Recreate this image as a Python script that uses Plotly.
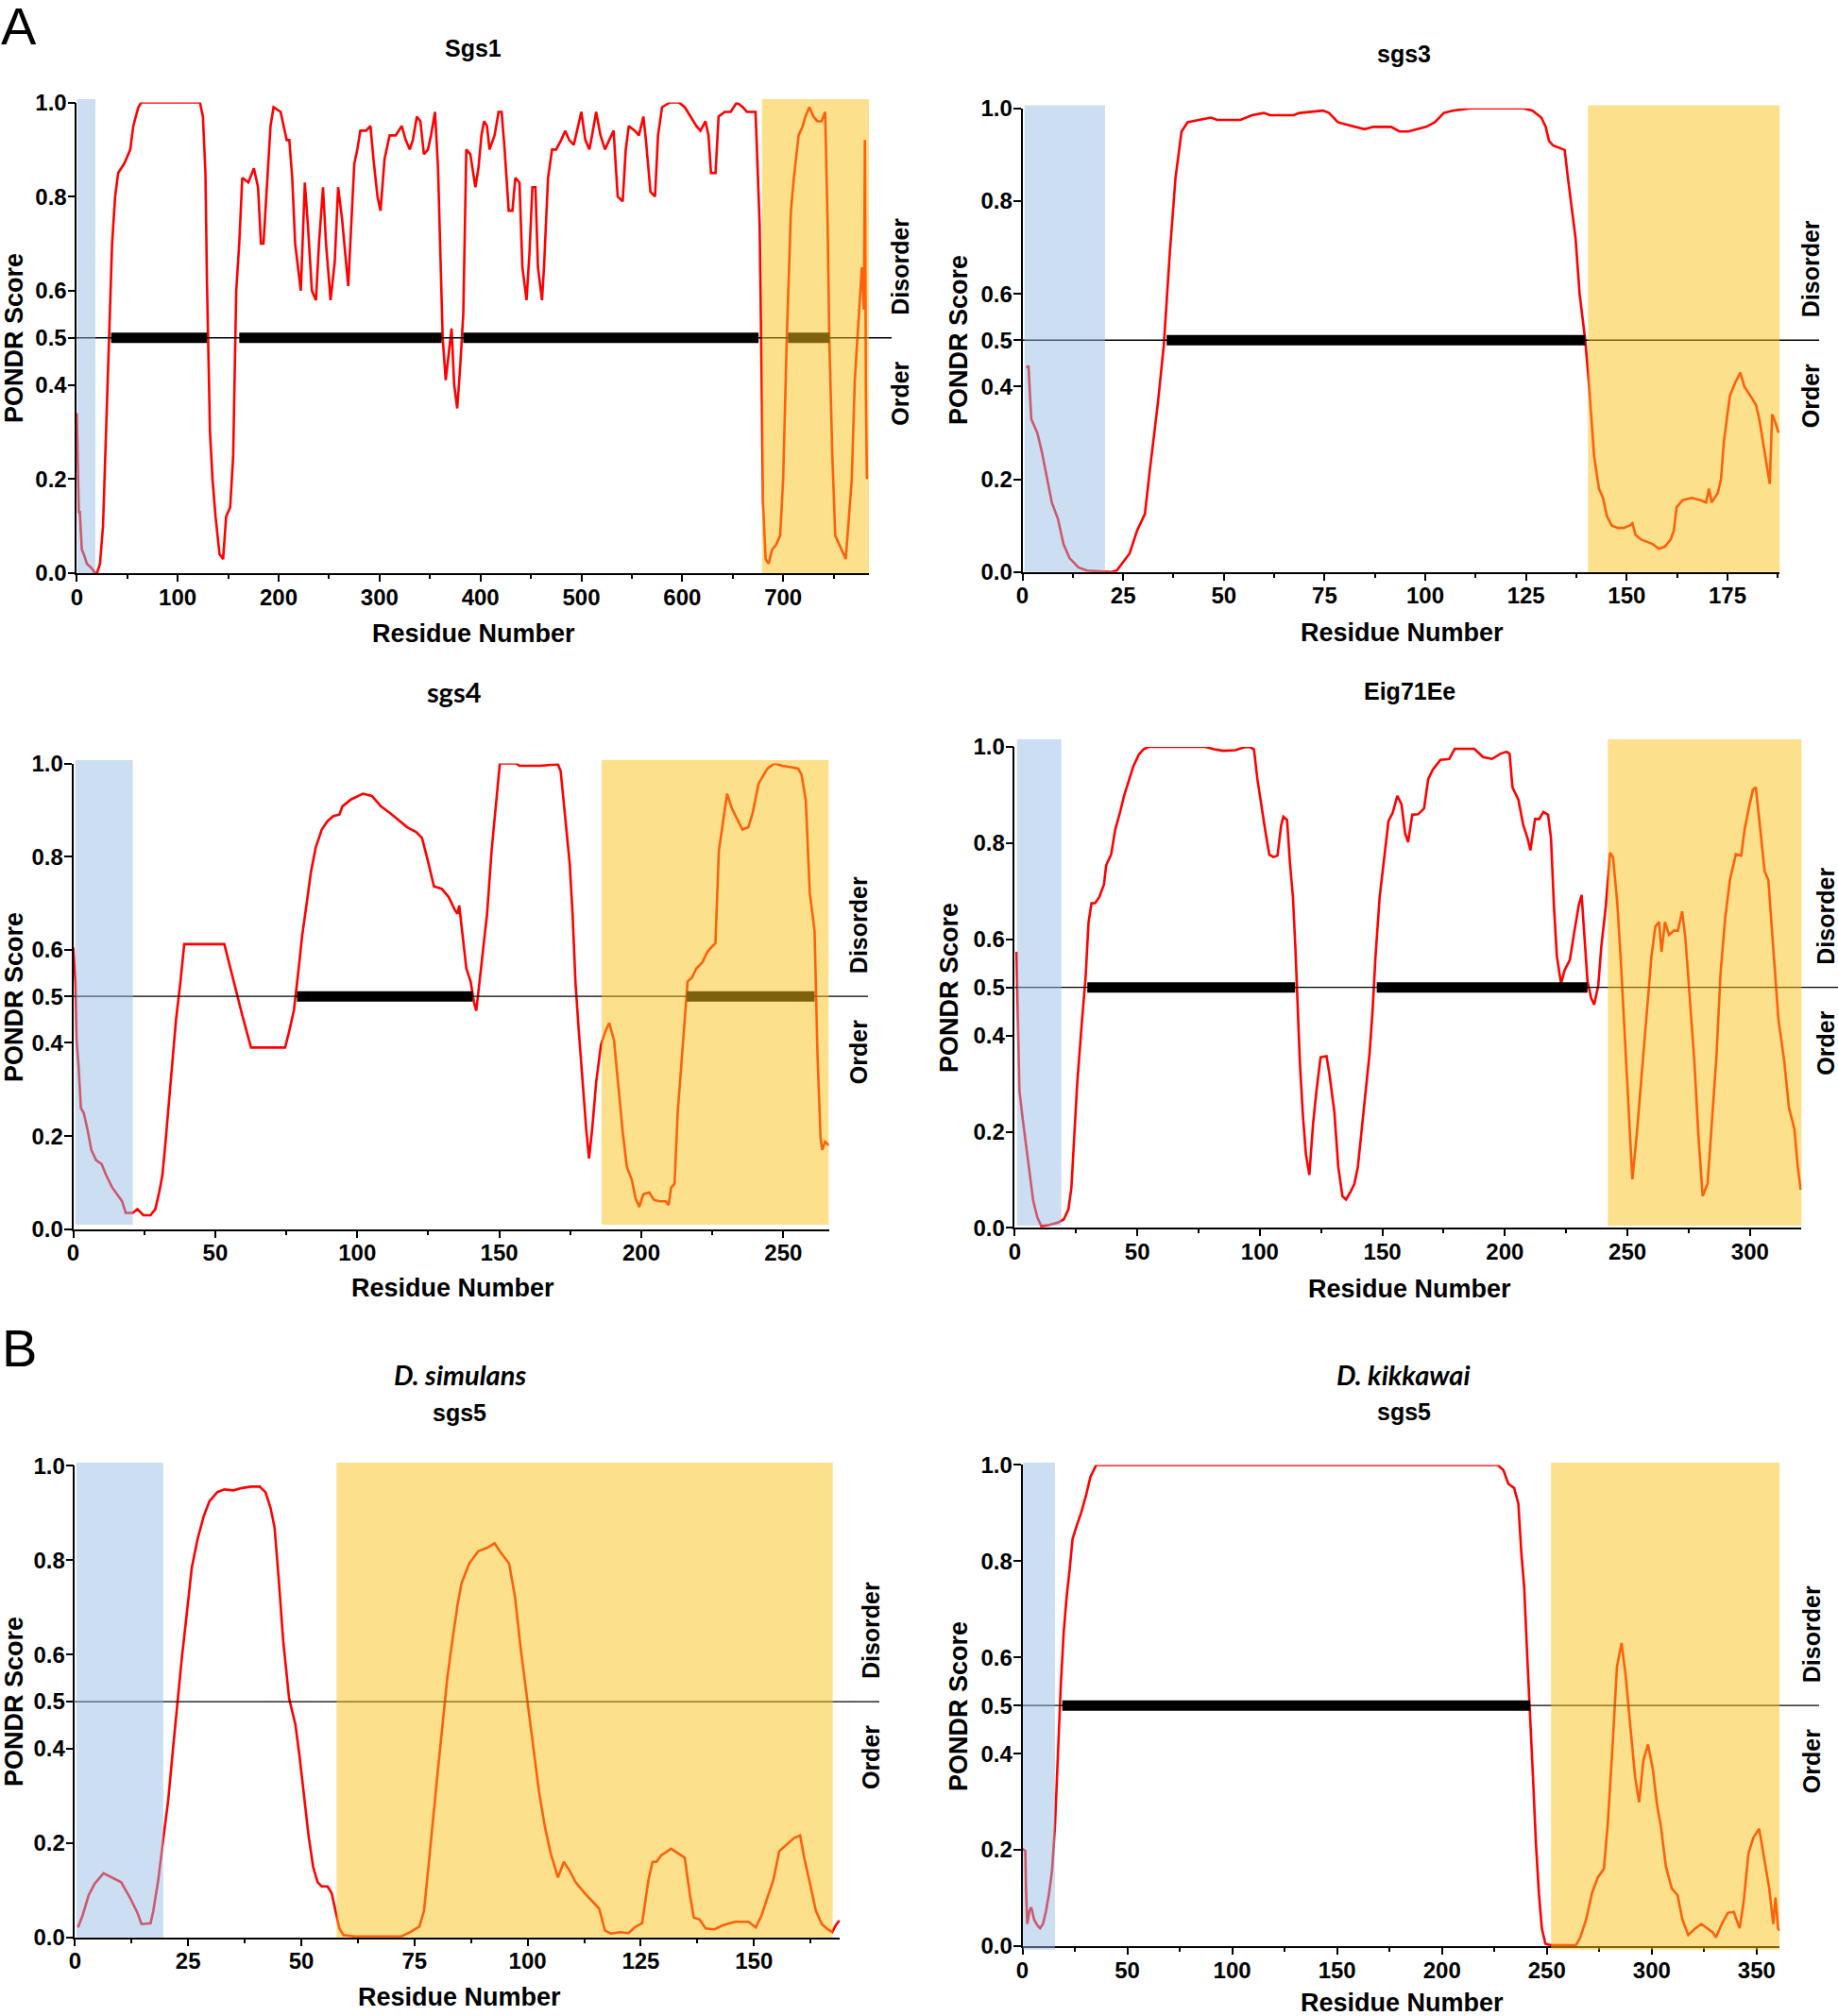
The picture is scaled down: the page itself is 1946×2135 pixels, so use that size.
import plotly.graph_objects as go

W, H = 1946, 2135          # page size

# ---------------- data ----------------
sgs1_residue = [0,1,2,3,4,5,7,10,15,18,20,23,26,29,32,35,38,41,47,53,56,61,64,122,125,127.5,129,132,134.5,137.5,141.5,145,148,152,155,158,161,164,170,175.5,179.6,182.5,185,188,192,195,202,208,210.6,213.5,216.4,222,226,229,233,237,240,244,247,251.5,255.6,259,263,269,275,278,281,286.6,291,294,298,301,305,310,316,322,326,330,333,337,340.5,344,348,351,355,358,360,362.6,365.6,368.5,371.4,374,377,380,383,386,390,395,398,401,403.6,406.5,409,414,418,421,424,428,431.7,434.6,438.7,441.6,445.7,448.6,451.5,454.5,457,461,463,467,471,475,480,484,488,492.5,496,500,504,508,510.6,514.7,519,523.5,527.6,532,536,541,544,547,553,557,561.5,564,568.5,573,576,580,588,596.6,602.5,608,614,618,623,626,628.5,633,636,642,648,654,660,664,668,672.6,674,676.7,678.5,680,682.6,685.6,689,693,697,700,703.6,707.7,710.6,715.3,719.4,722,726,730,734,738,741.6,744,745.7,748.7,751.6,755.7,760,762,764.5,768,771,775,778,780,781,782,783]
sgs1_score = [0.34,0.25,0.13,0.13,0.07,0.05,0.04,0.02,0.01,0.0,0.0,0.02,0.1,0.3,0.52,0.7,0.8,0.85,0.87,0.9,0.95,0.99,1.0,1.0,0.97,0.85,0.62,0.3,0.2,0.12,0.04,0.03,0.12,0.14,0.25,0.6,0.7,0.84,0.83,0.86,0.82,0.7,0.7,0.8,0.95,0.99,0.98,0.92,0.92,0.84,0.7,0.6,0.83,0.74,0.6,0.58,0.7,0.82,0.7,0.58,0.66,0.82,0.75,0.61,0.87,0.9,0.94,0.94,0.95,0.88,0.8,0.77,0.88,0.93,0.93,0.95,0.92,0.9,0.92,0.97,0.96,0.89,0.9,0.93,0.98,0.86,0.68,0.5,0.41,0.46,0.52,0.4,0.35,0.44,0.55,0.9,0.89,0.82,0.86,0.93,0.96,0.95,0.9,0.93,0.98,0.98,0.9,0.77,0.77,0.84,0.83,0.65,0.58,0.68,0.82,0.82,0.65,0.58,0.65,0.84,0.9,0.9,0.92,0.94,0.92,0.91,0.94,0.98,0.92,0.9,0.93,0.98,0.93,0.9,0.92,0.94,0.8,0.79,0.9,0.95,0.94,0.93,0.97,0.92,0.81,0.8,0.93,0.99,1.0,1.0,0.99,0.97,0.95,0.94,0.96,0.93,0.85,0.85,0.97,0.98,0.98,1.0,0.99,0.98,0.98,0.98,0.9,0.74,0.45,0.15,0.03,0.02,0.05,0.06,0.08,0.2,0.5,0.77,0.84,0.93,0.95,0.97,0.99,0.97,0.96,0.96,0.98,0.75,0.5,0.25,0.08,0.06,0.04,0.03,0.1,0.2,0.41,0.55,0.65,0.56,0.92,0.38,0.2]
sgs1_disorder_segments = [(34, 129), (161, 361.6), (383, 675.6), (704.8, 746)]

sgs3_residue = [1,1.5,2.2,3.7,4.8,5.9,7.3,8.8,10.2,11.7,13.9,16,22,23.4,24.9,26.6,28.5,30.4,31.5,32.5,33.7,35.1,36.6,38,39.5,41,43.9,46.8,48.3,54.1,57,59.9,61.5,67.3,68.8,74.6,76.1,78.3,80.5,82.7,84.9,87.1,89.3,91.5,93.6,95.8,98,100.2,102.4,104.6,106.8,111.2,120,124.4,126.6,128.8,129.9,130.7,131.7,133.2,134.6,135.4,136.1,137.3,138.3,139.7,140.5,141.2,141.9,143.1,144.1,145.1,146.3,147.8,149.2,150.7,151.4,152.2,153.6,155.1,156.5,158,159.5,160.9,161.7,162.4,163.9,166.1,168.3,169.7,170.4,171.1,172.6,173.4,174.1,175.6,177,178.2,179.2,180.7,182.1,182.9,184.3,185.5,186.1,187,187.7]
sgs3_score = [0.44,0.445,0.33,0.30,0.26,0.21,0.15,0.115,0.06,0.03,0.01,0.003,0.0,0.003,0.02,0.04,0.09,0.125,0.21,0.28,0.37,0.49,0.69,0.85,0.95,0.97,0.975,0.98,0.975,0.975,0.985,0.99,0.985,0.985,0.99,0.995,0.99,0.97,0.965,0.96,0.955,0.96,0.96,0.96,0.95,0.95,0.955,0.96,0.97,0.99,0.995,1.0,1.0,1.0,0.995,0.98,0.96,0.93,0.92,0.915,0.91,0.85,0.8,0.72,0.6,0.5,0.42,0.33,0.25,0.18,0.16,0.12,0.1,0.095,0.095,0.1,0.105,0.08,0.07,0.065,0.06,0.05,0.055,0.07,0.09,0.14,0.155,0.16,0.155,0.15,0.18,0.15,0.17,0.2,0.28,0.38,0.41,0.43,0.4,0.38,0.36,0.33,0.25,0.19,0.34,0.32,0.3]
sgs3_disorder_segments = [(35.8, 139.7)]

sgs4_residue = [0,0.8,1.2,1.9,2.7,3.7,5,6.4,8.1,10,11.6,13.7,15.8,17.2,18.5,21,22.6,24.7,27.2,28.9,30.3,31.4,32.4,34.5,36.2,37.6,39.1,53.2,55.3,57.4,59.5,62.6,74.6,76,77.7,79.2,80.6,82.3,83.7,85.4,87.5,89.5,91.6,93.7,94.8,97.9,100,102,105.2,108.3,111.4,114.5,117.6,120.7,122.8,124.9,127,129.7,132.2,134.3,135.3,135.9,137,138.4,139.9,141.1,141.9,143,144.2,145.7,147.3,148.8,150.2,156,157.1,164.4,170.6,171.6,172.7,174.8,175.8,176.8,177.9,179.3,180.6,181.6,182.7,184.1,185.8,187.3,188.7,190.4,192,193.5,194.9,196.6,198,199.3,200.7,202.8,204.4,206.5,208.6,209.6,210.5,211.7,212.8,214.2,215.3,216.3,217.8,219.4,221.5,223.2,224.6,226.1,227.3,228.8,230.2,231.9,234,235.6,237.7,239.2,241.3,244.4,246.9,249.6,252.7,255.2,256.4,257.9,259.3,261,262,263.1,263.7,264.7,266]
sgs4_score = [0.605,0.53,0.405,0.35,0.26,0.25,0.215,0.17,0.148,0.14,0.116,0.09,0.072,0.06,0.035,0.035,0.043,0.03,0.03,0.043,0.08,0.116,0.18,0.324,0.45,0.523,0.612,0.612,0.56,0.514,0.46,0.39,0.39,0.424,0.47,0.55,0.63,0.704,0.767,0.82,0.858,0.876,0.887,0.89,0.908,0.923,0.93,0.935,0.93,0.908,0.894,0.878,0.863,0.853,0.84,0.79,0.736,0.731,0.713,0.686,0.677,0.695,0.64,0.56,0.532,0.487,0.469,0.532,0.605,0.677,0.813,0.912,1.0,1.0,0.995,0.995,0.998,0.984,0.92,0.785,0.677,0.532,0.433,0.315,0.215,0.152,0.215,0.315,0.396,0.424,0.443,0.405,0.297,0.206,0.134,0.107,0.066,0.048,0.075,0.079,0.063,0.06,0.06,0.052,0.089,0.098,0.25,0.36,0.45,0.532,0.54,0.56,0.573,0.595,0.605,0.614,0.813,0.876,0.935,0.903,0.876,0.858,0.863,0.894,0.957,0.989,1.0,0.995,0.992,0.989,0.976,0.921,0.722,0.64,0.378,0.197,0.17,0.188,0.18]
sgs4_disorder_segments = [(78.8, 140.6), (216, 261)]

eig_residue = [0.7,1.2,1.9,3.1,4.6,6,7.5,9.2,10.8,14,17.6,20,21.9,23.1,24.3,25.5,27.2,28.9,30.1,31.3,32.8,34.5,36.4,37.3,39.3,41,42.9,44.6,46.5,48.4,50.6,52.5,54.5,77.8,81.4,85.1,89.9,93.5,95.9,97.6,99,100.7,102.4,103.9,105.5,107.2,108.7,109.6,111.1,112.3,113.5,114.5,115.2,116.4,117.6,118.8,120.2,121.7,123.1,124.8,127.2,128.4,130.4,132,133.7,135.2,136.9,138.6,140,141.7,143.4,144.8,146,147.2,148.9,150.6,152.5,154.2,156.1,157.8,159.3,160.5,162.2,164.6,167,168.7,170.6,173.7,177.3,179.5,187.5,191.1,194.7,198.3,200.7,201.9,203.1,205.5,207.5,209.2,210.4,212.3,214,215.7,217.6,218.8,220,221.2,222.9,224.3,226.5,228.4,230.1,231.3,232.5,233.7,235.2,236.4,238.1,239.3,241.2,242.9,244.1,245.8,247.2,248.9,250.6,252,253.7,255.7,257.8,259.8,261.4,262.9,263.9,265.3,267,268.9,270.6,272.3,273.7,275.4,277.3,279,280.7,282.7,284.3,286.3,288,289.9,291.8,294.2,296.4,297.8,299.5,301.2,302.4,303.9,306,307.5,309.2,311.6,314,315.9,318.1,319.5,320.7]
eig_score = [0.574,0.425,0.285,0.232,0.171,0.11,0.057,0.022,0.004,0.006,0.011,0.018,0.039,0.083,0.188,0.302,0.416,0.521,0.635,0.675,0.675,0.688,0.714,0.754,0.776,0.828,0.863,0.898,0.929,0.96,0.984,0.995,1.0,1.0,0.995,0.992,0.993,0.999,1.0,0.995,0.933,0.872,0.82,0.776,0.771,0.774,0.837,0.855,0.848,0.758,0.688,0.583,0.486,0.337,0.232,0.153,0.11,0.215,0.285,0.355,0.357,0.32,0.241,0.127,0.066,0.059,0.074,0.092,0.127,0.215,0.302,0.364,0.451,0.565,0.688,0.758,0.846,0.863,0.898,0.881,0.82,0.802,0.859,0.86,0.872,0.933,0.953,0.973,0.975,0.996,0.996,0.979,0.975,0.986,0.99,0.986,0.916,0.89,0.837,0.811,0.785,0.85,0.85,0.865,0.859,0.811,0.67,0.565,0.508,0.535,0.557,0.618,0.67,0.692,0.609,0.513,0.478,0.464,0.504,0.583,0.67,0.78,0.771,0.679,0.565,0.408,0.25,0.101,0.188,0.311,0.434,0.565,0.627,0.636,0.574,0.636,0.609,0.618,0.618,0.658,0.6,0.478,0.346,0.188,0.066,0.092,0.206,0.355,0.53,0.644,0.723,0.777,0.774,0.828,0.872,0.911,0.916,0.846,0.741,0.723,0.609,0.434,0.346,0.25,0.206,0.127,0.079]
eig_disorder_segments = [(29.6, 114.4), (147.7, 233.7)]

dsim_residue = [0.65,1.7,3,4.3,6.3,8.2,10.2,12.1,13.8,14.7,16.7,17.3,18.4,19.6,20.6,21.7,22.6,23.6,24.9,25.8,27.1,28.4,29.7,31.4,33,35,36.9,38.9,40.8,42.1,43.2,44.1,45,46,47.3,48.7,49.6,50.6,51.6,52.6,53.6,54.5,55.8,56.7,57.5,58.4,59.3,61.7,72.1,74.1,76.1,77.1,78,79,80.2,81.3,82.3,83.5,84.5,85.4,87.1,89.1,91,92.7,94,95.9,97.2,98.5,99.9,101.2,102.5,103.8,105.1,106.7,108,109.3,110.6,112.6,114.5,115.8,117.1,118.4,120.4,122.3,123.6,125.3,126.7,127.6,128.5,129.5,131.7,133.4,134.7,135.8,136.7,138,139.3,141.3,143.2,145.8,148.8,150.4,151.7,153,154.3,155.6,157.2,158.9,160.2,161.1,162.4,163.7,165,166.3,167.3,168.1,168.9]
dsim_score = [0.021,0.047,0.089,0.113,0.136,0.127,0.117,0.085,0.052,0.028,0.03,0.056,0.122,0.216,0.291,0.404,0.498,0.592,0.704,0.784,0.845,0.892,0.925,0.944,0.95,0.948,0.953,0.956,0.956,0.944,0.911,0.869,0.761,0.629,0.507,0.451,0.385,0.3,0.216,0.15,0.117,0.108,0.108,0.094,0.056,0.019,0.005,0.002,0.002,0.011,0.023,0.056,0.141,0.244,0.357,0.46,0.554,0.638,0.704,0.751,0.793,0.819,0.826,0.836,0.817,0.793,0.723,0.61,0.507,0.404,0.31,0.235,0.178,0.127,0.16,0.141,0.117,0.094,0.075,0.061,0.014,0.008,0.011,0.009,0.021,0.03,0.122,0.16,0.16,0.174,0.188,0.178,0.169,0.094,0.042,0.038,0.019,0.017,0.026,0.033,0.033,0.021,0.047,0.085,0.122,0.183,0.197,0.211,0.216,0.169,0.113,0.056,0.028,0.017,0.011,0.026,0.036]
dsim_disorder_segments = []

dkik_residue = [0,1.4,1.7,2.3,3.4,4.2,5.6,7,8.4,9.8,11.3,12.7,14.1,15.5,16.9,18.3,19.7,21.1,22.5,23.9,25.9,28.1,30.4,32.4,35.2,226.5,229.3,231.6,234.4,236.4,237.8,239.2,240.6,242,243.4,244.8,246.2,247.6,249.3,251.8,263.9,265.9,268.7,271.5,274.3,277.2,279.1,281.4,283.4,285.6,287.6,289.9,292.1,294,296,298.2,300.5,302.5,304.4,306.7,309.5,312.3,314.6,317.4,320.8,323.6,326.4,329.2,330.6,333.4,336.2,339.1,341.9,343.8,346.1,348.4,351.2,353.1,356,357.9,359,360.2,361]
dkik_score = [0.202,0.198,0.12,0.046,0.074,0.081,0.055,0.044,0.037,0.046,0.074,0.11,0.156,0.248,0.396,0.543,0.653,0.727,0.782,0.846,0.874,0.902,0.938,0.975,1.0,1.0,0.989,0.961,0.952,0.92,0.819,0.745,0.607,0.488,0.35,0.212,0.11,0.037,0.005,0.002,0.002,0.018,0.055,0.11,0.143,0.161,0.258,0.423,0.58,0.63,0.561,0.451,0.35,0.299,0.386,0.419,0.368,0.294,0.248,0.166,0.12,0.106,0.055,0.023,0.037,0.046,0.037,0.028,0.018,0.046,0.069,0.071,0.037,0.092,0.193,0.225,0.244,0.193,0.12,0.046,0.101,0.037,0.032]
dkik_disorder_segments = [(19, 242)]

# shaded regions (residue ranges): N-terminal (blue) and C-terminal (yellow)
blue_regions = [(0.5, 18.5), (0.5, 20.5), (0.7, 21), (0.9, 19), (0.3, 19.5), (0.3, 15.5)]
yellow_regions = [(679, 785), (140.4, 188), (186, 266), (242, 323), (57.8, 167.4), (252, 361)]

y_tick_values = [0, 0.2, 0.4, 0.5, 0.6, 0.8, 1.0]
y_tick_labels = ["0.0", "0.2", "0.4", "0.5", "0.6", "0.8", "1.0"]
threshold = 0.5

panel_titles = [["Sgs1"], ["sgs3"], ["sgs4"], ["Eig71Ee"], ["D. simulans", "sgs5"], ["D. kikkawai", "sgs5"]]
series = [
    (sgs1_residue, sgs1_score, sgs1_disorder_segments, 785, 100, 50),
    (sgs3_residue, sgs3_score, sgs3_disorder_segments, 188, 25, 12.5),
    (sgs4_residue, sgs4_score, sgs4_disorder_segments, 266, 50, 25),
    (eig_residue, eig_score, eig_disorder_segments, 321, 50, 25),
    (dsim_residue, dsim_score, dsim_disorder_segments, 169, 25, 12.5),
    (dkik_residue, dkik_score, dkik_disorder_segments, 361, 50, 25),
]
for r, s, *_ in series:
    assert len(r) == len(s), (len(r), len(s))

# ---------------- layout geometry (page pixels) ----------------
geom = [
    dict(x0=81.3, x1=920.0, ytop=108.5, ybot=607.0, btop=104.9, bbot=607.0, thr=944, side=953,
         ylab=(15, 358), xlab=(501, 671), titles=[(501, 51, "h")]),
    dict(x0=1082.5, x1=1884.4, ytop=114.7, ybot=605.8, btop=111.6, bbot=605.8, thr=1926, side=1917,
         ylab=(1015, 360), xlab=(1484, 670), titles=[(1486, 57, "h")]),
    dict(x0=77.5, x1=877.5, ytop=808.5, ybot=1301.8, btop=805.0, bbot=1297.0, thr=919, side=909,
         ylab=(15, 1056), xlab=(479, 1364), titles=[(481, 732, "c")]),
    dict(x0=1074.4, x1=1907.3, ytop=791.0, ybot=1300.4, btop=783.0, bbot=1298.0, thr=1960, side=1933,
         ylab=(1005, 1046), xlab=(1492, 1365), titles=[(1492, 732, "h")]),
    dict(x0=79.4, x1=889.3, ytop=1552.4, ybot=2051.7, btop=1549.0, bbot=2051.7, thr=931, side=922,
         ylab=(15, 1802), xlab=(486, 2115), titles=[(487, 1455, "ci"), (486, 1496, "h")]),
    dict(x0=1082.5, x1=1884.3, ytop=1551.4, ybot=2061.0, btop=1549.0, bbot=2064.8, thr=1926, side=1918,
         ylab=(1015, 1807), xlab=(1484, 2121), titles=[(1486, 1455, "ci"), (1486, 1495, "h")]),
]

RED = "#ff0000"
YELLOW = "rgba(251,193,24,0.5)"
BLUE = "rgba(149,187,228,0.48)"
SANS = "Liberation Sans, Arial, Helvetica, sans-serif"
CAL = "Lato, Open Sans, sans-serif"

fig = go.Figure()
shapes_low, shapes_bands, annotations = [], [], []


def px(xp):
    return xp / W


def py(yp):
    return 1 - yp / H


def note(**kw):
    base = dict(showarrow=False, xanchor="center", yanchor="middle")
    base.update(kw)
    annotations.append(base)


def bold(s, fam=SANS):
    return dict(family=fam, size=s, color="black", weight="bold")


for i, ((res, score, segs, xmax, dt, mdt), g) in enumerate(zip(series, geom)):
    n = "" if i == 0 else str(i + 1)
    xa, ya = "x" + n, "y" + n
    fig.add_trace(go.Scatter(x=res, y=score, mode="lines", xaxis=xa, yaxis=ya,
                             line=dict(color=RED, width=2.6), showlegend=False, hoverinfo="skip"))
    axis_common = dict(showline=True, linecolor="black", linewidth=1.6, ticks="outside",
                       tickwidth=1.6, tickcolor="black", showgrid=False, zeroline=False,
                       automargin=False, tickfont=bold(24), ticklabelstandoff=-4)
    fig.layout["xaxis" + n] = dict(axis_common, domain=[px(g["x0"]), px(g["x1"])], range=[0, xmax],
                                   anchor=ya, dtick=dt, tick0=0, ticklen=7,
                                   minor=dict(dtick=mdt, ticks="outside", ticklen=4, tickwidth=1.6,
                                              tickcolor="black", showgrid=False))
    fig.layout["yaxis" + n] = dict(axis_common, domain=[py(g["ybot"]), py(g["ytop"])], range=[0, 1],
                                   anchor=xa, tickvals=y_tick_values, ticktext=y_tick_labels, ticklen=8)
    span = g["x1"] - g["x0"]
    shapes_low.append(dict(type="line", layer="above", xref=xa + " domain", yref=ya,
                           x0=0, x1=(g["thr"] - g["x0"]) / span, y0=threshold, y1=threshold,
                           line=dict(color="black", width=1.3)))
    for a, b in segs:
        shapes_low.append(dict(type="line", layer="above", xref=xa, yref=ya, x0=a, x1=b,
                               y0=threshold, y1=threshold, line=dict(color="black", width=11)))
    hgt = g["ybot"] - g["ytop"]
    yb0 = (g["ybot"] - g["bbot"]) / hgt
    yb1 = (g["ybot"] - g["btop"]) / hgt
    for (a, b), col in ((blue_regions[i], BLUE), (yellow_regions[i], YELLOW)):
        shapes_bands.append(dict(type="rect", layer="above", xref=xa, yref=ya + " domain",
                                 x0=a, x1=b, y0=yb0, y1=yb1, fillcolor=col, line=dict(width=0)))
    note(text="PONDR Score", textangle=-90, xref="paper", yref="paper",
         x=px(g["ylab"][0]), y=py(g["ylab"][1]), font=bold(27))
    note(text="Residue Number", xref="paper", yref="paper",
         x=px(g["xlab"][0]), y=py(g["xlab"][1]), font=bold(27))
    note(text="Disorder", textangle=-90, xref="paper", yref=ya,
         x=px(g["side"]), y=threshold, yshift=75, font=bold(25))
    note(text="Order", textangle=-90, xref="paper", yref=ya,
         x=px(g["side"]), y=threshold, yshift=-59, font=bold(25))
    for (tx, ty, sty), txt in zip(g["titles"], panel_titles[i]):
        if sty == "h":
            f = bold(25)
        elif sty == "c":
            f = bold(29, CAL)
        else:
            f = dict(family=CAL, size=29, color="black", weight="bold", style="italic")
        note(text=txt, xref="paper", yref="paper", x=px(tx), y=py(ty), font=f)

# panel letters
for letter, (lx, ly) in (("A", (20, 28)), ("B", (20, 1427))):
    note(text=letter, xref="paper", yref="paper", x=px(lx), y=py(ly),
         font=dict(family=SANS, size=56, color="black"))

fig.update_layout(width=W, height=H, autosize=False,
                  margin=dict(l=0, r=0, t=0, b=0, pad=0, autoexpand=False),
                  paper_bgcolor="white", plot_bgcolor="rgba(0,0,0,0)",
                  shapes=shapes_low + shapes_bands, annotations=annotations, showlegend=False)

fig.write_html("out.html", config={"displayModeBar": False},
               post_script="document.body.style.margin='0';document.body.style.overflow='hidden';")
